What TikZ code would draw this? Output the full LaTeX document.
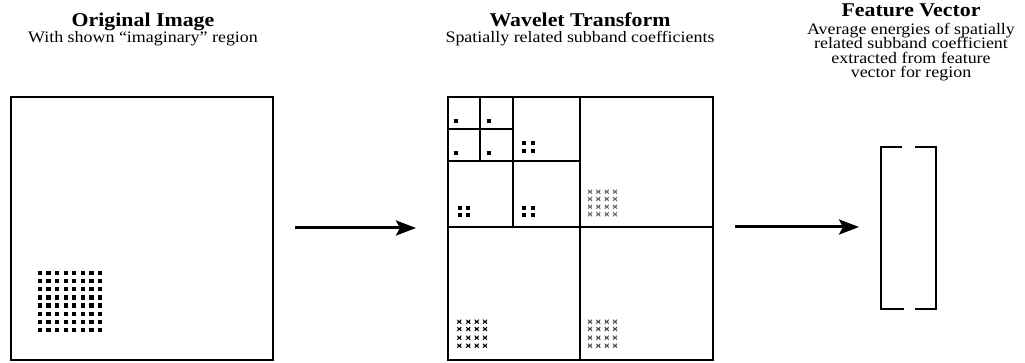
\documentclass[tikz,border=0pt]{standalone}
\usepackage{fontspec}
\setmainfont{Liberation Serif}[FakeStretch=1.12]
\usetikzlibrary{arrows.meta}
\tikzset{
  ttl/.style={inner sep=0pt, anchor=base, font=\fontsize{19.5}{20}\selectfont\bfseries},
  sub/.style={inner sep=0pt, anchor=base, font=\fontsize{16}{14}\selectfont},
  box/.style={draw, line width=2pt, inner sep=0pt, anchor=north west},
  sbline/.style={line width=2pt},
  arr/.style={line width=3pt, -{Stealth[length=20pt, width=15pt, inset=4pt]}},
  brk/.style={line width=2.5pt},
  crs/.style={line width=0.9pt}
}
\newcommand{\sqdot}[2]{\fill (#1-2.1,#2-2.1) rectangle (#1+2.1,#2+2.1);}
\newcommand{\crossmark}[3]{\draw[crs,#3] (#1-2,#2-2) -- (#1+2,#2+2) (#1-2,#2+2) -- (#1+2,#2-2) (#1-1.7,#2) -- (#1+1.7,#2);}
\begin{document}
\begin{tikzpicture}[x=1pt,y=-1pt]
\useasboundingbox (0,0) rectangle (1025,363);
% titles
\node[ttl] (t1) at (143,26.7) {Original Image};
\node[sub] (s1) at (143,42.7) {With shown “imaginary” region};
\node[ttl] (t2) at (580,26.7) {Wavelet Transform};
\node[sub] (s2) at (580,42.7) {Spatially related subband coefficients};
\node[ttl] (t3) at (911,16.7) {Feature Vector};
\node[sub] (s3a) at (911,35) {Average energies of spatially};
\node[sub] (s3b) at (911,49) {related subband coefficient};
\node[sub] (s3c) at (911,63.3) {extracted from feature};
\node[sub] (s3d) at (911,77.3) {vector for region};
% original image
\node[box, minimum width=262pt, minimum height=263pt] (orig) at (10,96) {};
\foreach \i in {0,...,7}{\foreach \j in {0,...,7}{
  \pgfmathsetmacro{\xx}{40+8.57*\i}\pgfmathsetmacro{\yy}{273+8.14*\j}
  \sqdot{\xx}{\yy}
}}
% wavelet transform
\node[box, minimum width=265pt, minimum height=263pt] (wav) at (447,96) {};
\draw[sbline] (579.5,96) -- (579.5,359);
\draw[sbline] (447,227.5) -- (712,227.5);
\draw[sbline] (513,96) -- (513,227.5);
\draw[sbline] (447,161.5) -- (579.5,161.5);
\draw[sbline] (480,96) -- (480,161.5);
\draw[sbline] (447,128.7) -- (513,128.7);
% level 3 dots
\sqdot{455.7}{121}\sqdot{489}{121}\sqdot{455.7}{153}\sqdot{489}{153}
% level 2 dots
\foreach \xx in {524.3,533.3}{\foreach \yy in {142.7,150.7}{\sqdot{\xx}{\yy}}}
\foreach \xx in {460,468.3}{\foreach \yy in {207.7,215}{\sqdot{\xx}{\yy}}}
\foreach \xx in {524.3,533.3}{\foreach \yy in {207.7,215}{\sqdot{\xx}{\yy}}}
% level 1 crosses
\foreach \xx in {590,598.3,606.7,615}{\foreach \yy in {191.7,199,206.7,214.3}{\crossmark{\xx}{\yy}{black!60}}}
\foreach \xx in {459.3,468.3,476.7,485}{\foreach \yy in {321.7,329,337.7,345.7}{\crossmark{\xx}{\yy}{black}}}
\foreach \xx in {590,598.3,606.7,615}{\foreach \yy in {321.7,329,337.7,345.7}{\crossmark{\xx}{\yy}{black!70}}}
% arrows
\coordinate (a1s) at (295,228);
\coordinate (a1e) at (416,228);
\coordinate (a2s) at (735,227);
\coordinate (a2e) at (859,227);
\draw[arr] (a1s) -- (a1e);
\draw[arr] (a2s) -- (a2e);
% feature vector bracket
\draw[brk] (902,147) -- (881,147) -- (881,309) -- (904,309);
\draw[brk] (915,147) -- (936,147) -- (936,309) -- (915,309);
\end{tikzpicture}
\end{document}
